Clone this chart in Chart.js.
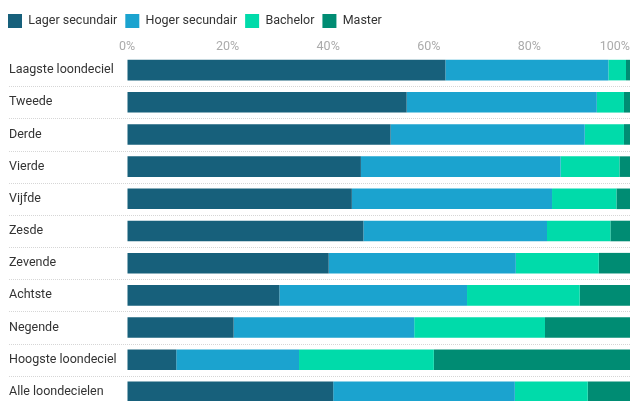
<!DOCTYPE html>
<html>
<head>
<meta charset="utf-8">
<title>Opleidingsniveau per loondeciel</title>
<script src="https://cdn.jsdelivr.net/npm/chart.js@4/dist/chart.umd.min.js"></script>
<style>
  body { margin: 0; background: #fff; overflow: hidden; }
  #wrap { width: 630px; height: 410px; position: relative; }
</style>
</head>
<body>
<div id="wrap"><canvas id="eduChart"></canvas></div>
<script>
const categories = ['Laagste loondeciel', 'Tweede', 'Derde', 'Vierde', 'Vijfde', 'Zesde',
  'Zevende', 'Achtste', 'Negende', 'Hoogste loondeciel', 'Alle loondecielen'];
const lager = [63.3, 55.6, 52.4, 46.5, 44.7, 47.0, 40.1, 30.3, 21.2, 9.8, 41.0];
const hoger = [32.4, 37.8, 38.6, 39.7, 39.8, 36.5, 37.2, 37.3, 35.9, 24.4, 36.1];
const bachelor = [3.5, 5.4, 7.8, 11.7, 12.8, 12.6, 16.5, 22.4, 26.0, 26.8, 14.5];
const master = [0.8, 1.2, 1.2, 2.1, 2.7, 3.9, 6.2, 10.0, 16.9, 39.0, 8.4];
const tickValues = [0, 20, 40, 60, 80, 100];

const FONT = 'Roboto';

// ---------- Plugins ----------
// dotted separators between the rows, running under the labels too
const rowLines = {
  id: 'rowLines',
  beforeDatasetsDraw(chart) {
    const y = chart.scales.y;
    const ctx = chart.ctx;
    ctx.save();
    ctx.strokeStyle = '#d6d6d6';
    ctx.lineWidth = 1;
    ctx.setLineDash([1, 1]);
    for (let i = 0; i < categories.length - 1; i++) {
      const py = Math.round((y.getPixelForValue(i) + y.getPixelForValue(i + 1)) / 2) + 0.5;
      ctx.beginPath();
      ctx.moveTo(9, py);
      ctx.lineTo(chart.width, py);
      ctx.stroke();
    }
    ctx.restore();
  }
};

// percent labels on top, last one kept inside the canvas
const topTicks = {
  id: 'topTicks',
  afterDraw(chart) {
    const x = chart.scales.x;
    const ctx = chart.ctx;
    ctx.save();
    ctx.font = '12.5px ' + FONT;
    ctx.fillStyle = '#ababab';
    ctx.textBaseline = 'middle';
    tickValues.forEach(v => {
      const label = v + '%';
      const w = ctx.measureText(label).width;
      let left = x.getPixelForValue(v) - w / 2;
      if (left + w > chart.width) left = chart.width - w;
      ctx.fillText(label, left, 47);
    });
    ctx.restore();
  }
};

// move the category labels in from the left edge
const labelInset = {
  id: 'labelInset',
  afterLayout(chart) {
    chart.scales.y.left = 9;
  }
};

// ---------- Chart ----------
new Chart(document.getElementById('eduChart'), {
  type: 'bar',
  data: {
    labels: categories,
    datasets: [
      { label: 'Lager secundair', data: lager, backgroundColor: '#17607b' },
      { label: 'Hoger secundair', data: hoger, backgroundColor: '#1ba3cf' },
      { label: 'Bachelor', data: bachelor, backgroundColor: '#00dbaa' },
      { label: 'Master', data: master, backgroundColor: '#008c73' }
    ]
  },
  options: {
    indexAxis: 'y',
    responsive: true,
    maintainAspectRatio: false,
    animation: false,
    datasets: { bar: { categoryPercentage: 1, barPercentage: 0.64, borderWidth: 0 } },
    layout: { padding: { top: 6, left: 0, right: 0, bottom: 2 } },
    plugins: {
      tooltip: { enabled: false },
      legend: {
        position: 'top',
        align: 'start',
        labels: {
          boxWidth: 14,
          boxHeight: 14,
          padding: 8,
          color: '#333',
          font: { family: FONT, size: 12.5 }
        }
      }
    },
    scales: {
      x: {
        position: 'top',
        stacked: true,
        min: 0,
        max: 100,
        z: 1,
        afterBuildTicks: s => { s.ticks = tickValues.map(v => ({ value: v })); },
        afterFit: s => { s.height = 16; },
        ticks: { display: false },
        grid: { color: 'rgba(255,255,255,0.35)', drawTicks: false },
        border: { display: false }
      },
      y: {
        stacked: true,
        afterFit: s => { s.width = 127; s.paddingTop = 0; s.paddingBottom = 0; },
        ticks: {
          crossAlign: 'far',
          color: '#333',
          font: { family: FONT, size: 12.5 }
        },
        grid: { display: false },
        border: { display: false }
      }
    }
  },
  plugins: [rowLines, topTicks, labelInset]
});
</script>
</body>
</html>
